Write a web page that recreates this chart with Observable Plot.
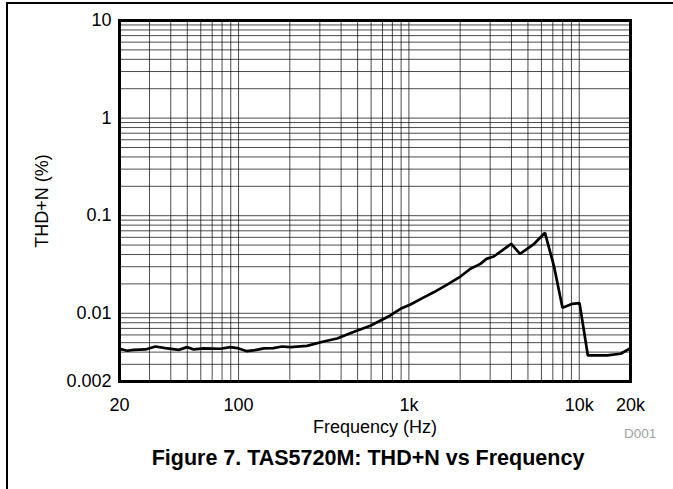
<!DOCTYPE html>
<html>
<head>
<meta charset="utf-8">
<script src="https://cdn.jsdelivr.net/npm/d3@7"></script>
<script src="https://cdn.jsdelivr.net/npm/@observablehq/plot@0.6"></script>
<style>
  html, body { margin: 0; padding: 0; background: #fff; }
  body { width: 673px; height: 489px; position: relative; overflow: hidden; font-family: "Liberation Sans", Arial, sans-serif; }
  #frame { position: absolute; left: 6px; top: 2px; width: 667px; height: 487px; border-top: 2px solid #000; border-left: 2px solid #000; box-sizing: border-box; }
  #chart { position: absolute; left: 0; top: 0; }
  #code { position: absolute; left: 624px; top: 426px; font-size: 13.5px; color: #a0a0a0; }
  #title { position: absolute; left: 68px; width: 600px; top: 446px; text-align: center; font-size: 21.5px; font-weight: bold; color: #000; }
</style>
</head>
<body>
<div id="frame"></div>
<div id="chart"></div>
<div id="code">D001</div>
<div id="title">Figure 7. TAS5720M: THD+N vs Frequency</div>
<script>
// Frequency (Hz)
const freq = [20, 20.8, 22.2, 24.3, 28.4, 32.5, 37.2, 44.6, 49.9, 54.6, 62.5, 78.3, 89.6, 98.2, 112, 125, 140.6, 160, 180, 202, 252, 316, 379, 464, 594, 682, 778, 893, 1022, 1200, 1398, 1678, 2006, 2298, 2630, 2852, 3148, 3990, 4492, 5438, 6294, 7130, 7974, 9120, 10040, 11240, 14580, 17500, 20000];
// THD+N (%)
const thdn = [0.0043, 0.00426, 0.00413, 0.00422, 0.00426, 0.00457, 0.0044, 0.00422, 0.0045, 0.00426, 0.00437, 0.00433, 0.0045, 0.0044, 0.00409, 0.0042, 0.00437, 0.0044, 0.00457, 0.0045, 0.00464, 0.00514, 0.00552, 0.00635, 0.00745, 0.00844, 0.0095, 0.0111, 0.0123, 0.0143, 0.0164, 0.0197, 0.0238, 0.0286, 0.0321, 0.0361, 0.0382, 0.0515, 0.0407, 0.0515, 0.0668, 0.0297, 0.0114, 0.0125, 0.0127, 0.0037, 0.0037, 0.00385, 0.0044];

const xTickValues = [20, 100, 1000, 10000, 20000];
const xTickLabels = ["20", "100", "1k", "10k", "20k"];
const yTickValues = [0.002, 0.01, 0.1, 1, 10];
const yTickLabels = ["0.002", "0.01", "0.1", "1", "10"];

const data = freq.map((f, i) => ({f, v: thdn[i]}));

// grid lines at every 1..9 multiple of each decade
const xGrid = [];
for (const d of [10, 100, 1000, 10000]) for (let k = 1; k <= 9; k++) { const v = d * k; if (v > 20 && v < 20000) xGrid.push(v); }
const yGrid = [];
for (const d of [0.001, 0.01, 0.1, 1]) for (let k = 1; k <= 9; k++) { const v = +(d * k).toPrecision(3); if (v > 0.002 && v < 10) yGrid.push(v); }

const chart = Plot.plot({
  width: 673,
  height: 440,
  marginLeft: 119,
  marginRight: 43,
  marginTop: 20,
  marginBottom: 59,
  style: { fontFamily: "Liberation Sans, Arial, sans-serif", fontSize: "18px", color: "#000", background: "transparent" },
  x: { type: "log", domain: [20, 20000] },
  y: { type: "log", domain: [0.002, 10] },
  marks: [
    Plot.ruleX(xGrid, { stroke: "#000", strokeOpacity: 0.7, strokeWidth: 1 }),
    Plot.ruleY(yGrid, { stroke: "#000", strokeOpacity: 0.7, strokeWidth: 1 }),
    Plot.line(data, { x: "f", y: "v", stroke: "#000", strokeWidth: 2.7, strokeLinejoin: "miter" }),
    Plot.frame({ stroke: "#000", strokeWidth: 3 }),
    Plot.axisX({ ticks: xTickValues, tickFormat: d => xTickLabels[xTickValues.indexOf(d)], tickSize: 0, tickPadding: 17, fontSize: 18, label: "Frequency (Hz)", labelAnchor: "center", labelArrow: "none", labelOffset: 51 }),
    Plot.axisY({ ticks: yTickValues, tickFormat: d => yTickLabels[yTickValues.indexOf(d)], tickSize: 0, tickPadding: 8, fontSize: 18, label: "THD+N (%)", labelAnchor: "center", labelArrow: "none", labelOffset: 84 })
  ]
});
document.getElementById("chart").appendChild(chart);
</script>
</body>
</html>
